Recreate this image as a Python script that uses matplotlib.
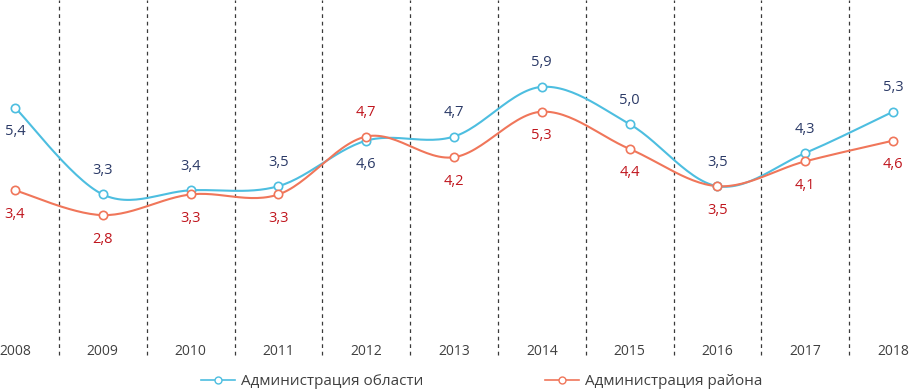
import numpy as np
import matplotlib
matplotlib.use('Agg')
import matplotlib.pyplot as plt
from matplotlib.lines import Line2D

plt.rcParams['font.family'] = ['Open Sans', 'DejaVu Sans']

years = ['2008', '2009', '2010', '2011', '2012', '2013', '2014', '2015', '2016', '2017', '2018']
oblast = [5.4, 3.3, 3.4, 3.5, 4.6, 4.7, 5.9, 5.0, 3.5, 4.3, 5.3]
raion = [3.4, 2.8, 3.3, 3.3, 4.7, 4.2, 5.3, 4.4, 3.5, 4.1, 4.6]
# где подпись: 1 - над точкой, -1 - под точкой
oblast_pos = [-1, 1, 1, 1, -1, 1, 1, 1, 1, 1, 1]
raion_pos = [-1, -1, -1, -1, 1, -1, -1, -1, -1, -1, -1]

blue = '#4DBEE0'
red = '#F0765A'
blue_txt = '#2B3A67'
red_txt = '#C0161E'


def smooth(x, y, n=30):
    # сглаживание как в Excel (кривые Безье через соседние точки)
    x = np.asarray(x, float)
    y = np.asarray(y, float)
    px = np.concatenate([[x[0]], x, [x[-1]]])
    py = np.concatenate([[y[0]], y, [y[-1]]])
    xs, ys = [], []
    t = np.linspace(0, 1, n)
    for i in range(1, len(px) - 2):
        p0 = np.array([px[i], py[i]])
        p3 = np.array([px[i + 1], py[i + 1]])
        p1 = p0 + (np.array([px[i + 1], py[i + 1]]) - np.array([px[i - 1], py[i - 1]])) / 6
        p2 = p3 - (np.array([px[i + 2], py[i + 2]]) - np.array([px[i], py[i]])) / 6
        b = ((1 - t) ** 3)[:, None] * p0 + (3 * (1 - t) ** 2 * t)[:, None] * p1 \
            + (3 * (1 - t) * t ** 2)[:, None] * p2 + (t ** 3)[:, None] * p3
        xs.extend(b[:, 0])
        ys.extend(b[:, 1])
    return xs, ys


fig = plt.figure(figsize=(9.09, 3.92), dpi=100)
ax = fig.add_axes([0, 0, 1, 1])
ax.set_xlim(-15 / 87.8, 10 + 16 / 87.8)
ax.set_ylim(-1.475, 8.0)
ax.axis('off')

x = np.arange(len(years))

# пунктирные разделители
for i in range(len(years) - 1):
    ax.plot([i + 0.5, i + 0.5], [-0.57, 8.0], color='#3a3a3a', lw=0.9,
            linestyle=(0, (3, 3)), zorder=1)

for vals, col, pos, tcol in [(oblast, blue, oblast_pos, blue_txt),
                              (raion, red, raion_pos, red_txt)]:
    sx, sy = smooth(x, vals)
    ax.plot(sx, sy, color=col, lw=1.5, zorder=3)
    ax.plot(x, vals, 'o', color=col, markerfacecolor='white', markersize=6,
            markeredgewidth=1.2, zorder=4)
    for xi, v, p in zip(x, vals, pos):
        ax.annotate(('%.1f' % v).replace('.', ','), (xi, v), xytext=(0, 24 * p),
                    textcoords='offset pixels', ha='center', va='center',
                    fontsize=10.5, color=tcol, zorder=5)

for xi, yr in zip(x, years):
    ax.text(xi, -0.5, yr, ha='center', va='center', fontsize=10, color='#404040')

handles = [Line2D([], [], color=blue, marker='o', markerfacecolor='white', markersize=5, lw=1.2),
           Line2D([], [], color=red, marker='o', markerfacecolor='white', markersize=5, lw=1.2)]
fig.legend(handles, ['Администрация области', 'Администрация района'],
           loc='center', bbox_to_anchor=(0.53, 0.026), ncol=2, frameon=False,
           fontsize=11, handlelength=2.2, handletextpad=0.4, columnspacing=8.0,
           labelcolor='#404040')

fig.savefig('out.png', dpi=100)
